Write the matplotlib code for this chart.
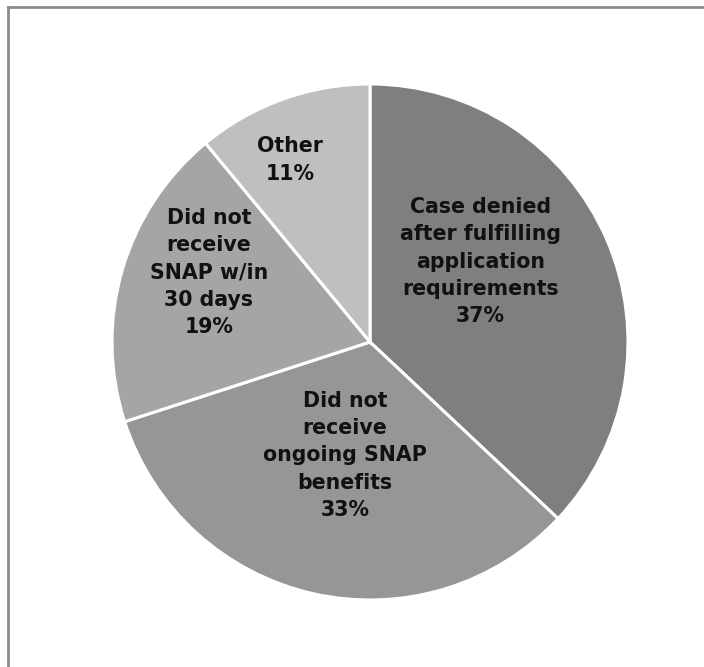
import numpy as np
import matplotlib.pyplot as plt
from matplotlib.lines import Line2D

labels = ["Case denied\nafter fulfilling\napplication\nrequirements",
          "Did not\nreceive\nongoing SNAP\nbenefits",
          "Did not\nreceive\nSNAP w/in\n30 days",
          "Other"]
values = [37, 33, 19, 11]
colors = ["#7f7f7f", "#969696", "#a5a5a5", "#bfbfbf"]

# where each label sits, as (angle deg, fraction of radius)
label_pos = [(36, 0.53), (-102.5, 0.45), (156.7, 0.68), (113.7, 0.77)]

W, H = 704, 667
cx, cy, R = 370, 342, 258   # pie centre and radius in pixels (from top-left)

fig = plt.figure(figsize=(W / 100, H / 100), dpi=100)
ax = fig.add_axes([0, 0, 1, 1])

ax.pie(values, colors=colors, startangle=90, counterclock=False,
       wedgeprops=dict(edgecolor='white', linewidth=2.2))

# pie() resets the limits, so set them afterwards
ax.set_xlim(-cx / R, (W - cx) / R)
ax.set_ylim(-(H - cy) / R, cy / R)
ax.set_aspect('equal')
ax.axis('off')

for lab, v, (ang, d) in zip(labels, values, label_pos):
    a = np.deg2rad(ang)
    ax.text(d * np.cos(a), d * np.sin(a), f"{lab}\n{v}%", ha='center', va='center',
            fontsize=14.8, fontweight='bold', family='DejaVu Sans',
            linespacing=1.45, color='#111111')

# chart frame, only top and left edges visible in the crop
fig.add_artist(Line2D([8 / W, 1], [1 - 7 / H, 1 - 7 / H], transform=fig.transFigure,
                      color='#8c8c8c', lw=2))
fig.add_artist(Line2D([8 / W, 8 / W], [0, 1 - 7 / H], transform=fig.transFigure,
                      color='#8c8c8c', lw=2))

fig.savefig('out.png', dpi=100)
